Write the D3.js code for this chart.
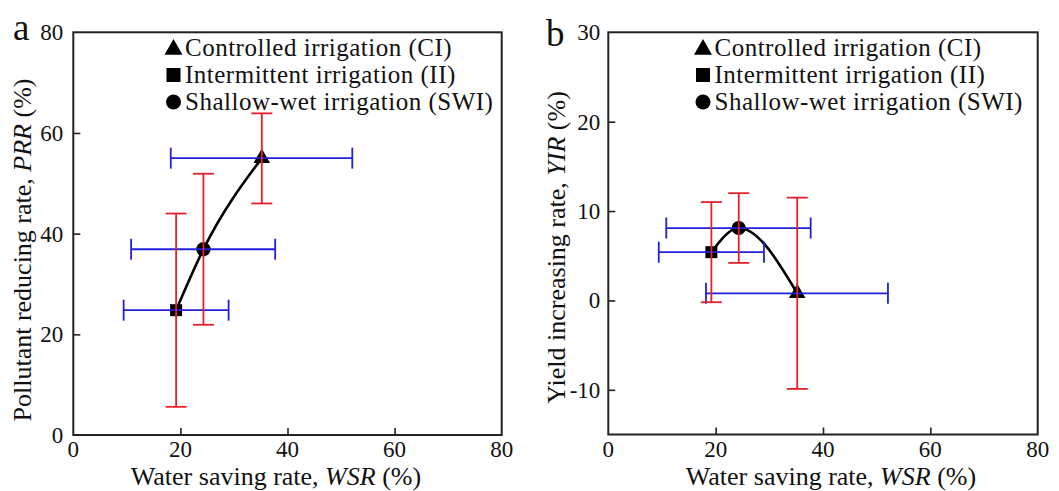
<!DOCTYPE html>
<html>
<head>
<meta charset="utf-8">
<script src="https://cdn.jsdelivr.net/npm/d3@7"></script>
<style>
    body { margin: 0; background: #fff; }
    svg text { font-family: "Liberation Serif", "Times New Roman", "DejaVu Serif", serif; }
    .tick-label { font-size: 23px; fill: #111; }
    .axis-title { font-size: 26px; fill: #111; }
    .legend-label { font-size: 25px; letter-spacing: 0.5px; fill: #111; }
    .panel-label { font-size: 37px; fill: #111; }
</style>
</head>
<body>
<div id="chart"></div>
<script>
// irrigation strategies (same order everywhere)
const strategies = ["CI", "II", "SWI"];
const legendLabels = ["Controlled irrigation (CI)", "Intermittent irrigation (II)", "Shallow-wet irrigation (SWI)"];
const symbols = ["triangle", "square", "circle"];

// water saving rate, WSR (%)
const wsrMean = [35.2, 19.2, 24.3];
const wsrLow = [18.2, 9.4, 10.8];
const wsrHigh = [52.1, 29.0, 37.7];

// pollutant reducing rate, PRR (%)
const prrMean = [55.0, 24.8, 36.9];
const prrLow = [46.0, 5.6, 21.9];
const prrHigh = [63.9, 44.0, 51.9];

// yield increasing rate, YIR (%)
const yirMean = [0.8, 5.4, 8.1];
const yirLow = [-9.9, -0.2, 4.2];
const yirHigh = [11.5, 11.0, 12.0];

const xTicks = [0, 20, 40, 60, 80];
const prrTicks = [0, 20, 40, 60, 80];
const yirTicks = [-10, 0, 10, 20, 30];

const RED = "#e8202a";
const BLUE = "#2020d8";
const FONT = "'Liberation Serif', 'Times New Roman', 'DejaVu Serif', serif";

const svg = d3.select("#chart")
    .append("svg")
        .attr("width", 1059)
        .attr("height", 491)
        .attr("font-family", FONT);

svg.append("rect")
    .attr("width", 1059)
    .attr("height", 491)
    .attr("fill", "#fff");

function symbolPath(name, size) {
    let type = d3.symbolCircle;
    if (name === "triangle") type = d3.symbolTriangle;
    if (name === "square") type = d3.symbolSquare;
    return d3.symbol().type(type).size(size)();
}

function drawPanel(cfg) {
    const x = d3.scaleLinear().domain([0, 80]).range([cfg.left, cfg.right]);
    const y = d3.scaleLinear().domain(cfg.yDomain).range([cfg.bottom, cfg.top]);

    const rows = strategies.map((s, i) => ({
        name: s,
        symbol: symbols[i],
        x: wsrMean[i], x0: wsrLow[i], x1: wsrHigh[i],
        y: cfg.mean[i], y0: cfg.low[i], y1: cfg.high[i]
    }));

    const g = svg.append("g");

    // frame
    g.append("rect")
        .attr("x", cfg.left)
        .attr("y", cfg.top)
        .attr("width", cfg.right - cfg.left)
        .attr("height", cfg.bottom - cfg.top)
        .attr("fill", "none")
        .attr("stroke", "#222")
        .attr("stroke-width", 2);

    // inward ticks
    const xAxis = d3.axisTop(x).tickValues(xTicks.filter(t => t > 0 && t < 80)).tickSize(7).tickFormat("");
    g.append("g")
        .attr("transform", `translate(0,${cfg.bottom})`)
        .call(xAxis)
        .call(a => a.select(".domain").remove())
        .call(a => a.selectAll("line").attr("stroke", "#222").attr("stroke-width", 1.6));

    const yAxis = d3.axisRight(y).tickValues(cfg.yTicks.filter(t => t > cfg.yDomain[0] && t < cfg.yDomain[1])).tickSize(7).tickFormat("");
    g.append("g")
        .attr("transform", `translate(${cfg.left},0)`)
        .call(yAxis)
        .call(a => a.select(".domain").remove())
        .call(a => a.selectAll("line").attr("stroke", "#222").attr("stroke-width", 1.6));

    // tick labels
    g.selectAll(".xlab")
        .data(xTicks)
        .join("text")
            .attr("class", "tick-label")
            .attr("x", d => x(d))
            .attr("y", 457)
            .attr("text-anchor", "middle")
            .text(d => d);

    g.selectAll(".ylab")
        .data(cfg.yTicks)
        .join("text")
            .attr("class", "tick-label")
            .attr("x", cfg.left - cfg.yLabelGap)
            .attr("y", d => y(d))
            .attr("dy", "0.35em")
            .attr("text-anchor", "end")
            .text(d => d);

    // axis titles
    const xt = g.append("text")
        .attr("class", "axis-title")
        .attr("x", cfg.xTitleX)
        .attr("y", 485)
        .attr("text-anchor", "middle");
    xt.append("tspan").text("Water saving rate, ");
    xt.append("tspan").attr("font-style", "italic").text("WSR");
    xt.append("tspan").text(" (%)");

    const yt = g.append("text")
        .attr("class", "axis-title")
        .attr("transform", `translate(${cfg.yTitleX},${cfg.yTitleY}) rotate(-90)`)
        .attr("text-anchor", "middle");
    yt.append("tspan").text(cfg.yTitle[0]);
    yt.append("tspan").attr("font-style", "italic").text(cfg.yTitle[1]);
    yt.append("tspan").text(cfg.yTitle[2]);

    // panel letter
    g.append("text")
        .attr("class", "panel-label")
        .attr("x", cfg.labelX)
        .attr("y", cfg.labelY)
        .text(cfg.label);

    // fitted curve through the three strategies, ordered by WSR
    const ordered = rows.slice().sort((a, b) => a.x - b.x);
    const line = d3.line()
        .x(d => x(d.x))
        .y(d => y(d.y))
        .curve(d3.curveMonotoneX);
    g.append("path")
        .attr("d", line(ordered))
        .attr("fill", "none")
        .attr("stroke", "#000")
        .attr("stroke-width", 2.6);

    // markers
    const markerSize = { triangle: 120, square: 144, circle: 160 };
    g.selectAll(".marker")
        .data(rows)
        .join("path")
            .attr("transform", d => `translate(${x(d.x)},${y(d.y)})`)
            .attr("d", d => symbolPath(d.symbol, markerSize[d.symbol]))
            .attr("fill", "#000");

    const cap = 10.5;

    // horizontal (WSR) error bars
    const hb = g.selectAll(".hbar").data(rows).join("g")
        .attr("stroke", BLUE)
        .attr("stroke-width", 1.8)
        .attr("fill", "none");
    hb.append("line")
        .attr("x1", d => x(d.x0)).attr("x2", d => x(d.x1))
        .attr("y1", d => y(d.y)).attr("y2", d => y(d.y));
    hb.append("line")
        .attr("x1", d => x(d.x0)).attr("x2", d => x(d.x0))
        .attr("y1", d => y(d.y) - cap).attr("y2", d => y(d.y) + cap);
    hb.append("line")
        .attr("x1", d => x(d.x1)).attr("x2", d => x(d.x1))
        .attr("y1", d => y(d.y) - cap).attr("y2", d => y(d.y) + cap);

    // vertical error bars
    const vb = g.selectAll(".vbar").data(rows).join("g")
        .attr("stroke", RED)
        .attr("stroke-width", 1.8)
        .attr("fill", "none");
    vb.append("line")
        .attr("x1", d => x(d.x)).attr("x2", d => x(d.x))
        .attr("y1", d => y(d.y0)).attr("y2", d => y(d.y1));
    vb.append("line")
        .attr("x1", d => x(d.x) - cap).attr("x2", d => x(d.x) + cap)
        .attr("y1", d => y(d.y0)).attr("y2", d => y(d.y0));
    vb.append("line")
        .attr("x1", d => x(d.x) - cap).attr("x2", d => x(d.x) + cap)
        .attr("y1", d => y(d.y1)).attr("y2", d => y(d.y1));

    // legend
    const legendSize = { triangle: 140, square: 196, circle: 177 };
    const lg = g.selectAll(".legend")
        .data(legendLabels)
        .join("g")
            .attr("transform", (d, i) => `translate(${cfg.legendX},${55.5 + i * 27})`);
    lg.append("path")
        .attr("transform", (d, i) => `translate(0,${i === 0 ? -6 : -7.5})`)
        .attr("d", (d, i) => symbolPath(symbols[i], legendSize[symbols[i]]))
        .attr("fill", "#000");
    lg.append("text")
        .attr("class", "legend-label")
        .attr("x", 11.5)
        .text(d => d);
}

drawPanel({
    left: 73.3, right: 501.7, top: 32.3, bottom: 435,
    yDomain: [0, 80], yTicks: prrTicks,
    mean: prrMean, low: prrLow, high: prrHigh,
    yLabelGap: 10,
    xTitleX: 276,
    yTitle: ["Pollutant reducing rate, ", "PRR", " (%)"],
    yTitleX: 31, yTitleY: 250,
    label: "a", labelX: 13, labelY: 40,
    legendX: 173.5
});

drawPanel({
    left: 608.3, right: 1037.7, top: 32.3, bottom: 434.5,
    yDomain: [-15, 30], yTicks: yirTicks,
    mean: yirMean, low: yirLow, high: yirHigh,
    yLabelGap: 8,
    xTitleX: 831,
    yTitle: ["Yield increasing rate, ", "YIR", " (%)"],
    yTitleX: 565, yTitleY: 247.5,
    label: "b", labelX: 546, labelY: 46,
    legendX: 703
});
</script>
</body>
</html>
